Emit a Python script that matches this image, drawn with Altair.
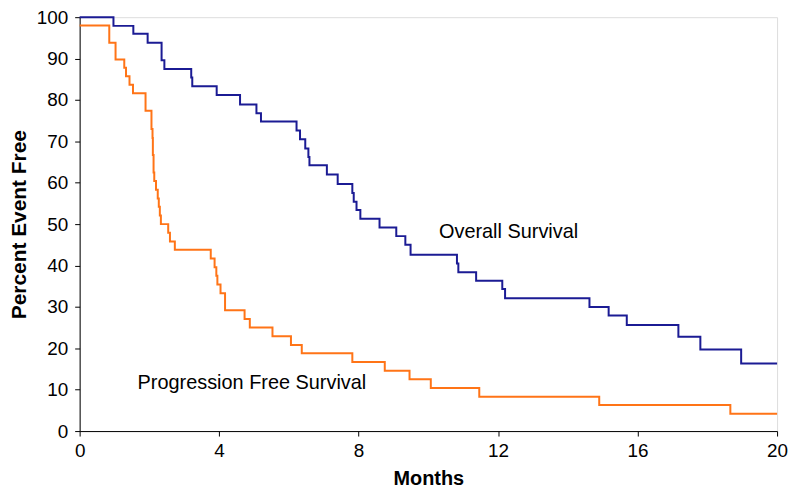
import altair as alt
import pandas as pd

# Overall Survival (Kaplan-Meier steps): change times (months) and percent event free
os_time = [0, 0.97, 1.54, 1.95, 2.35, 2.43, 3.2, 3.23, 3.93, 4.6, 5.07, 5.2, 6.22, 6.32,
           6.47, 6.56, 6.59, 7.09, 7.4, 7.82, 7.86, 7.94, 8.05, 8.6, 9.08, 9.34, 9.49,
           10.82, 10.86, 11.37, 12.12, 12.2, 14.62, 15.17, 15.69, 17.17, 17.8, 18.97, 20]
os_value = [100, 97.9, 96, 93.8, 89.6, 87.5, 85.4, 83.3, 81.2, 78.9, 76.8, 74.8, 72.6, 70.5,
            68.3, 66.2, 64.2, 62, 59.7, 57.5, 55.4, 53.4, 51.3, 49.2, 47.1, 45, 42.6,
            40.5, 38.4, 36.3, 34.3, 32.1, 30, 27.9, 25.6, 22.8, 19.7, 16.3, 16.3]

# Progression Free Survival
pfs_time = [0, 0.85, 1.03, 1.28, 1.33, 1.43, 1.53, 1.89, 2.06, 2.09, 2.1, 2.12, 2.14, 2.19,
            2.24, 2.27, 2.3, 2.33, 2.54, 2.59, 2.73, 3.76, 3.87, 3.92, 3.95, 4.04, 4.17,
            4.73, 4.88, 5.53, 6.06, 6.37, 7.82, 8.75, 9.46, 10.07, 11.46, 14.9, 18.66, 20]
pfs_value = [98, 93.8, 89.8, 87.8, 85.7, 83.7, 81.6, 77.4, 73, 70.8, 66.7, 62.5, 60.4, 58.3,
             56.2, 54.2, 52.1, 50, 47.9, 45.8, 43.8, 41.7, 39.6, 37.5, 35.4, 33.3, 29.2,
             27.1, 25, 22.9, 20.8, 18.8, 16.7, 14.6, 12.5, 10.4, 8.3, 6.3, 4.2, 4.2]

series_names = ["Overall Survival", "Progression Free Survival"]
series_colors = ["#1b1b94", "#ff7417"]

# Annotation labels (anchored in data coordinates)
label_text = ["Overall Survival", "Progression Free Survival"]
label_x = [12.3, 4.94]
label_y = [48.2, 11.7]

x_ticks = [0, 4, 8, 12, 16, 20]
y_ticks = [0, 10, 20, 30, 40, 50, 60, 70, 80, 90, 100]

rows = []
for t, v in zip(os_time, os_value):
    rows.append({"month": t, "pct": v, "series": series_names[0]})
for t, v in zip(pfs_time, pfs_value):
    rows.append({"month": t, "pct": v, "series": series_names[1]})
df = pd.DataFrame(rows)

labels_df = pd.DataFrame({"text": label_text, "month": label_x, "pct": label_y})

FONT = "Liberation Sans"

x_enc = alt.X(
    "month:Q",
    scale=alt.Scale(domain=[0, 20], nice=False),
    axis=alt.Axis(
        values=x_ticks, title="Months", grid=False, tickSize=5, labelPadding=6,
        titlePadding=8, labelFontSize=19, titleFontSize=20, labelFont=FONT,
        titleFont=FONT, titleFontWeight="bold", domainColor="black",
        tickColor="black", labelColor="black", titleColor="black",
        labelFlush=False,
    ),
)
y_enc = alt.Y(
    "pct:Q",
    scale=alt.Scale(domain=[0, 100], nice=False),
    axis=alt.Axis(
        values=y_ticks, title="Percent Event Free", grid=False, tickSize=5,
        labelPadding=7, titlePadding=7, labelFontSize=19, titleFontSize=21,
        labelFont=FONT, titleFont=FONT, titleFontWeight="bold",
        domainColor="black", tickColor="black", labelColor="black",
        titleColor="black", labelFlush=False,
    ),
)

lines = alt.Chart(df).mark_line(interpolate="step-after", strokeWidth=2).encode(
    x=x_enc,
    y=y_enc,
    color=alt.Color("series:N", scale=alt.Scale(domain=series_names, range=series_colors),
                    legend=None),
    detail="series:N",
)

texts = alt.Chart(labels_df).mark_text(
    font=FONT, fontSize=20, color="black", align="center", baseline="middle"
).encode(x="month:Q", y="pct:Q", text="text:N")

chart = (
    alt.layer(lines, texts)
    .properties(
        width=701,
        height=416,
        autosize=alt.AutoSizeParams(type="none"),
        padding={"left": 72, "top": 8, "right": 15, "bottom": 57},
    )
    .configure_view(stroke=None)
    .configure(background="white")
)

chart.save("out.html", embed_options={"renderer": "svg", "actions": False})
